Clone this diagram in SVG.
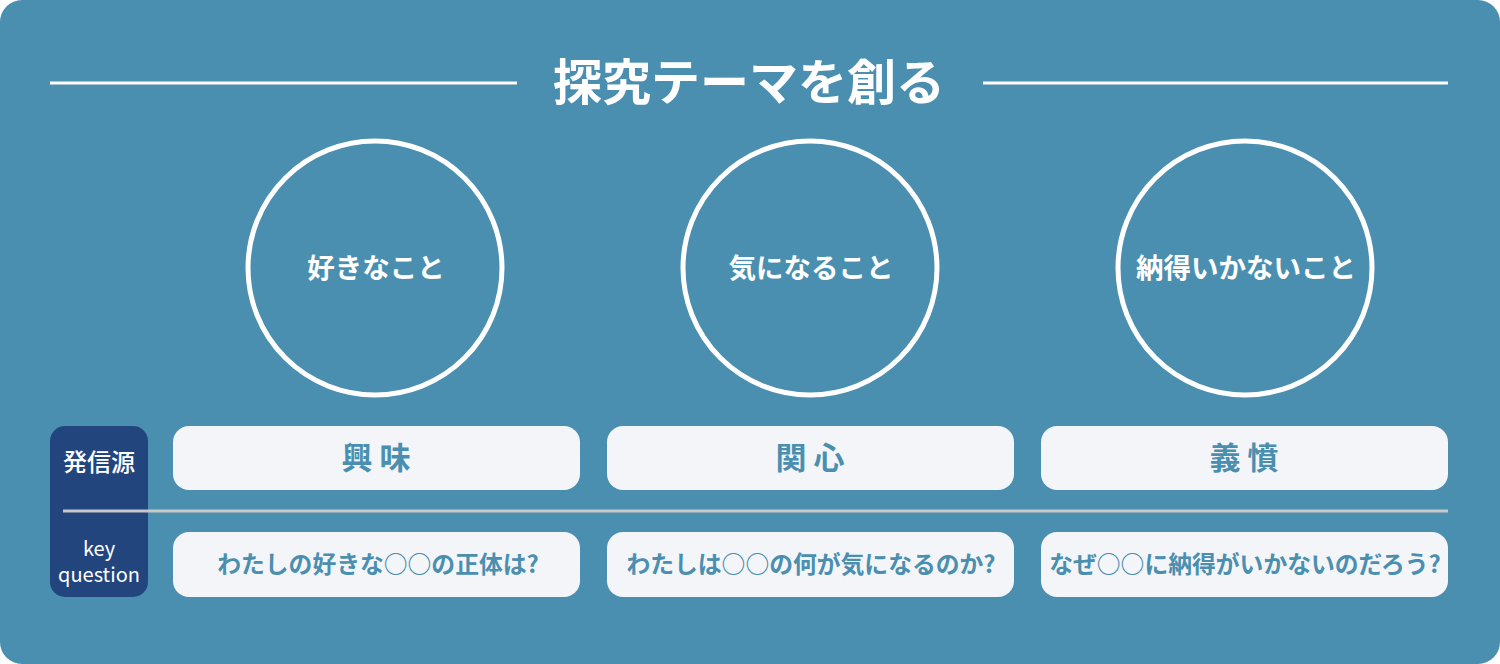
<svg xmlns="http://www.w3.org/2000/svg" width="1500" height="664" viewBox="0 0 1500 664">
<style>
.t{font-family:"Noto Sans CJK JP","Noto Sans",sans-serif;font-weight:bold;text-anchor:middle}
.circ{fill:none;stroke:#ffffff;stroke-width:5}
.ct{font-size:27.5px;fill:#ffffff}
.box{fill:#f3f5f9}
.r1{font-size:31px;fill:#4a8fb0}
.r2{font-size:23.8px;fill:#4a8fb0}
.lbl{font-family:"Noto Sans CJK JP","Noto Sans",sans-serif;fill:#ffffff;text-anchor:middle}
</style>
<rect x="0" y="0" width="1500" height="664" rx="22" fill="#4a8fb0"/>
<g id="title">
<line x1="50" y1="83" x2="517" y2="83" stroke="#ffffff" stroke-width="3"/>
<line x1="983" y1="83" x2="1448" y2="83" stroke="#ffffff" stroke-width="3"/>
<text class="t" x="749" y="100" font-size="49" fill="#ffffff">探究テーマを創る</text>
</g>
<g id="circle1"><circle class="circ" cx="375" cy="268" r="127"/><text class="t ct" x="376" y="278">好きなこと</text></g>
<g id="circle2"><circle class="circ" cx="810" cy="268" r="127"/><text class="t ct" x="811" y="278">気になること</text></g>
<g id="circle3"><circle class="circ" cx="1245" cy="268" r="127"/><text class="t ct" x="1246" y="278">納得いかないこと</text></g>
<g id="label">
<rect x="50" y="426" width="98" height="171" rx="15" fill="#22457e"/>
<text class="lbl" x="99" y="471" font-size="24" font-weight="500">発信源</text>
<text class="lbl" x="99" y="556" font-size="20">key</text>
<text class="lbl" x="99" y="582" font-size="20">question</text>
</g>
<g id="connectors">
<line x1="63" y1="511" x2="1448" y2="511" stroke="#c8c8c8" stroke-width="3"/>
</g>
<g id="box1a"><rect class="box" x="173" y="426" width="407" height="64" rx="16"/><text class="t r1" x="376" y="469">興 味</text></g>
<g id="box2a"><rect class="box" x="607" y="426" width="407" height="64" rx="16"/><text class="t r1" x="810" y="469">関 心</text></g>
<g id="box3a"><rect class="box" x="1041" y="426" width="407" height="64" rx="16"/><text class="t r1" x="1244" y="469">義 憤</text></g>
<g id="box1b"><rect class="box" x="173" y="532" width="407" height="65" rx="16"/><text class="t r2" x="378" y="573">わたしの好きな○○の正体は?</text></g>
<g id="box2b"><rect class="box" x="607" y="532" width="407" height="65" rx="16"/><text class="t r2" x="811" y="573">わたしは○○の何が気になるのか?</text></g>
<g id="box3b"><rect class="box" x="1041" y="532" width="407" height="65" rx="16"/><text class="t r2" x="1245" y="573">なぜ○○に納得がいかないのだろう?</text></g>
</svg>
